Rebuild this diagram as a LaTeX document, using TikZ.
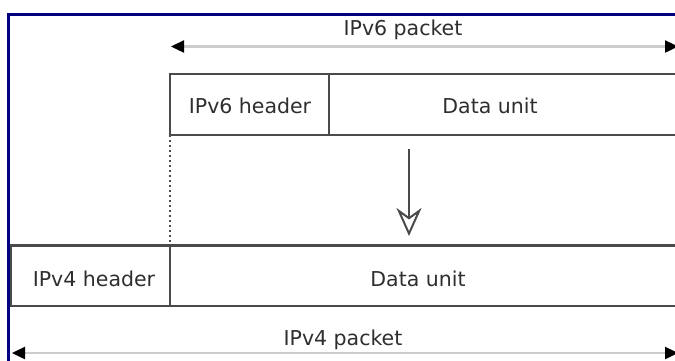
\documentclass[tikz,border=0pt]{standalone}
\usepackage{fontspec}
\setmainfont{DejaVu Sans}
\usetikzlibrary{arrows.meta}
\definecolor{navyb}{HTML}{000080}
\definecolor{boxline}{HTML}{4A4A4A}
\definecolor{txt}{HTML}{2E2E2E}
\definecolor{spanline}{HTML}{CCCCCC}
\begin{document}
\begin{tikzpicture}[x=1pt,y=-1pt,
  lbl/.style={font=\fontsize{20.5}{24}\selectfont, text=txt, anchor=base, inner sep=0pt},
  cell/.style={draw=boxline, line width=2.5pt},
  spanarrow/.style={draw=spanline, line width=2.4pt,
    {Triangle[length=13pt,width=12pt,color=black]}-{Triangle[length=13pt,width=12pt,color=black]}},
  downarrow/.style={draw=boxline, line width=2.4pt,
    -{Stealth[open, length=28pt, width=25pt, inset=9pt, line width=2pt, fill=white]}}]
\useasboundingbox (0,0) rectangle (675,360);
\clip (0,0) rectangle (675,360);
% frame
\draw[navyb, line width=3.2pt] (8.5,362) -- (8.5,14.5) -- (678,14.5);
% IPv6 row
\draw[cell] (690,74) -- (170,74) -- (170,135) -- (690,135);
\draw[cell] (329,74) -- (329,135);
% IPv4 row
\draw[cell] (690,245.5) -- (11,245.5) -- (11,306) -- (690,306);
\draw[cell] (170,245.5) -- (170,306);
% coordinates
\coordinate (v6L) at (170,135);
\coordinate (v4T) at (170,245.5);
\coordinate (dnA) at (409,149);
\coordinate (dnB) at (409,236);
\coordinate (p6L) at (171,46.5);
\coordinate (p6R) at (678,46.5);
\coordinate (p4L) at (12,353);
\coordinate (p4R) at (678,353);
% texts
\node[lbl] (t6pk) at (403,35) {IPv6 packet};
\node[lbl] (t6hd) at (250,113) {IPv6 header};
\node[lbl] (t6du) at (490,113) {Data unit};
\node[lbl] (t4hd) at (94,286) {IPv4 header};
\node[lbl] (t4du) at (418,286) {Data unit};
\node[lbl] (t4pk) at (343,345) {IPv4 packet};
% connectors
\draw[boxline, line width=2.4pt, dash pattern=on 2pt off 3pt] (v6L) -- (v4T);
\draw[downarrow] (dnA) -- (dnB);
\draw[spanarrow] (p6L) -- (p6R);
\draw[spanarrow] (p4L) -- (p4R);
\end{tikzpicture}
\end{document}
